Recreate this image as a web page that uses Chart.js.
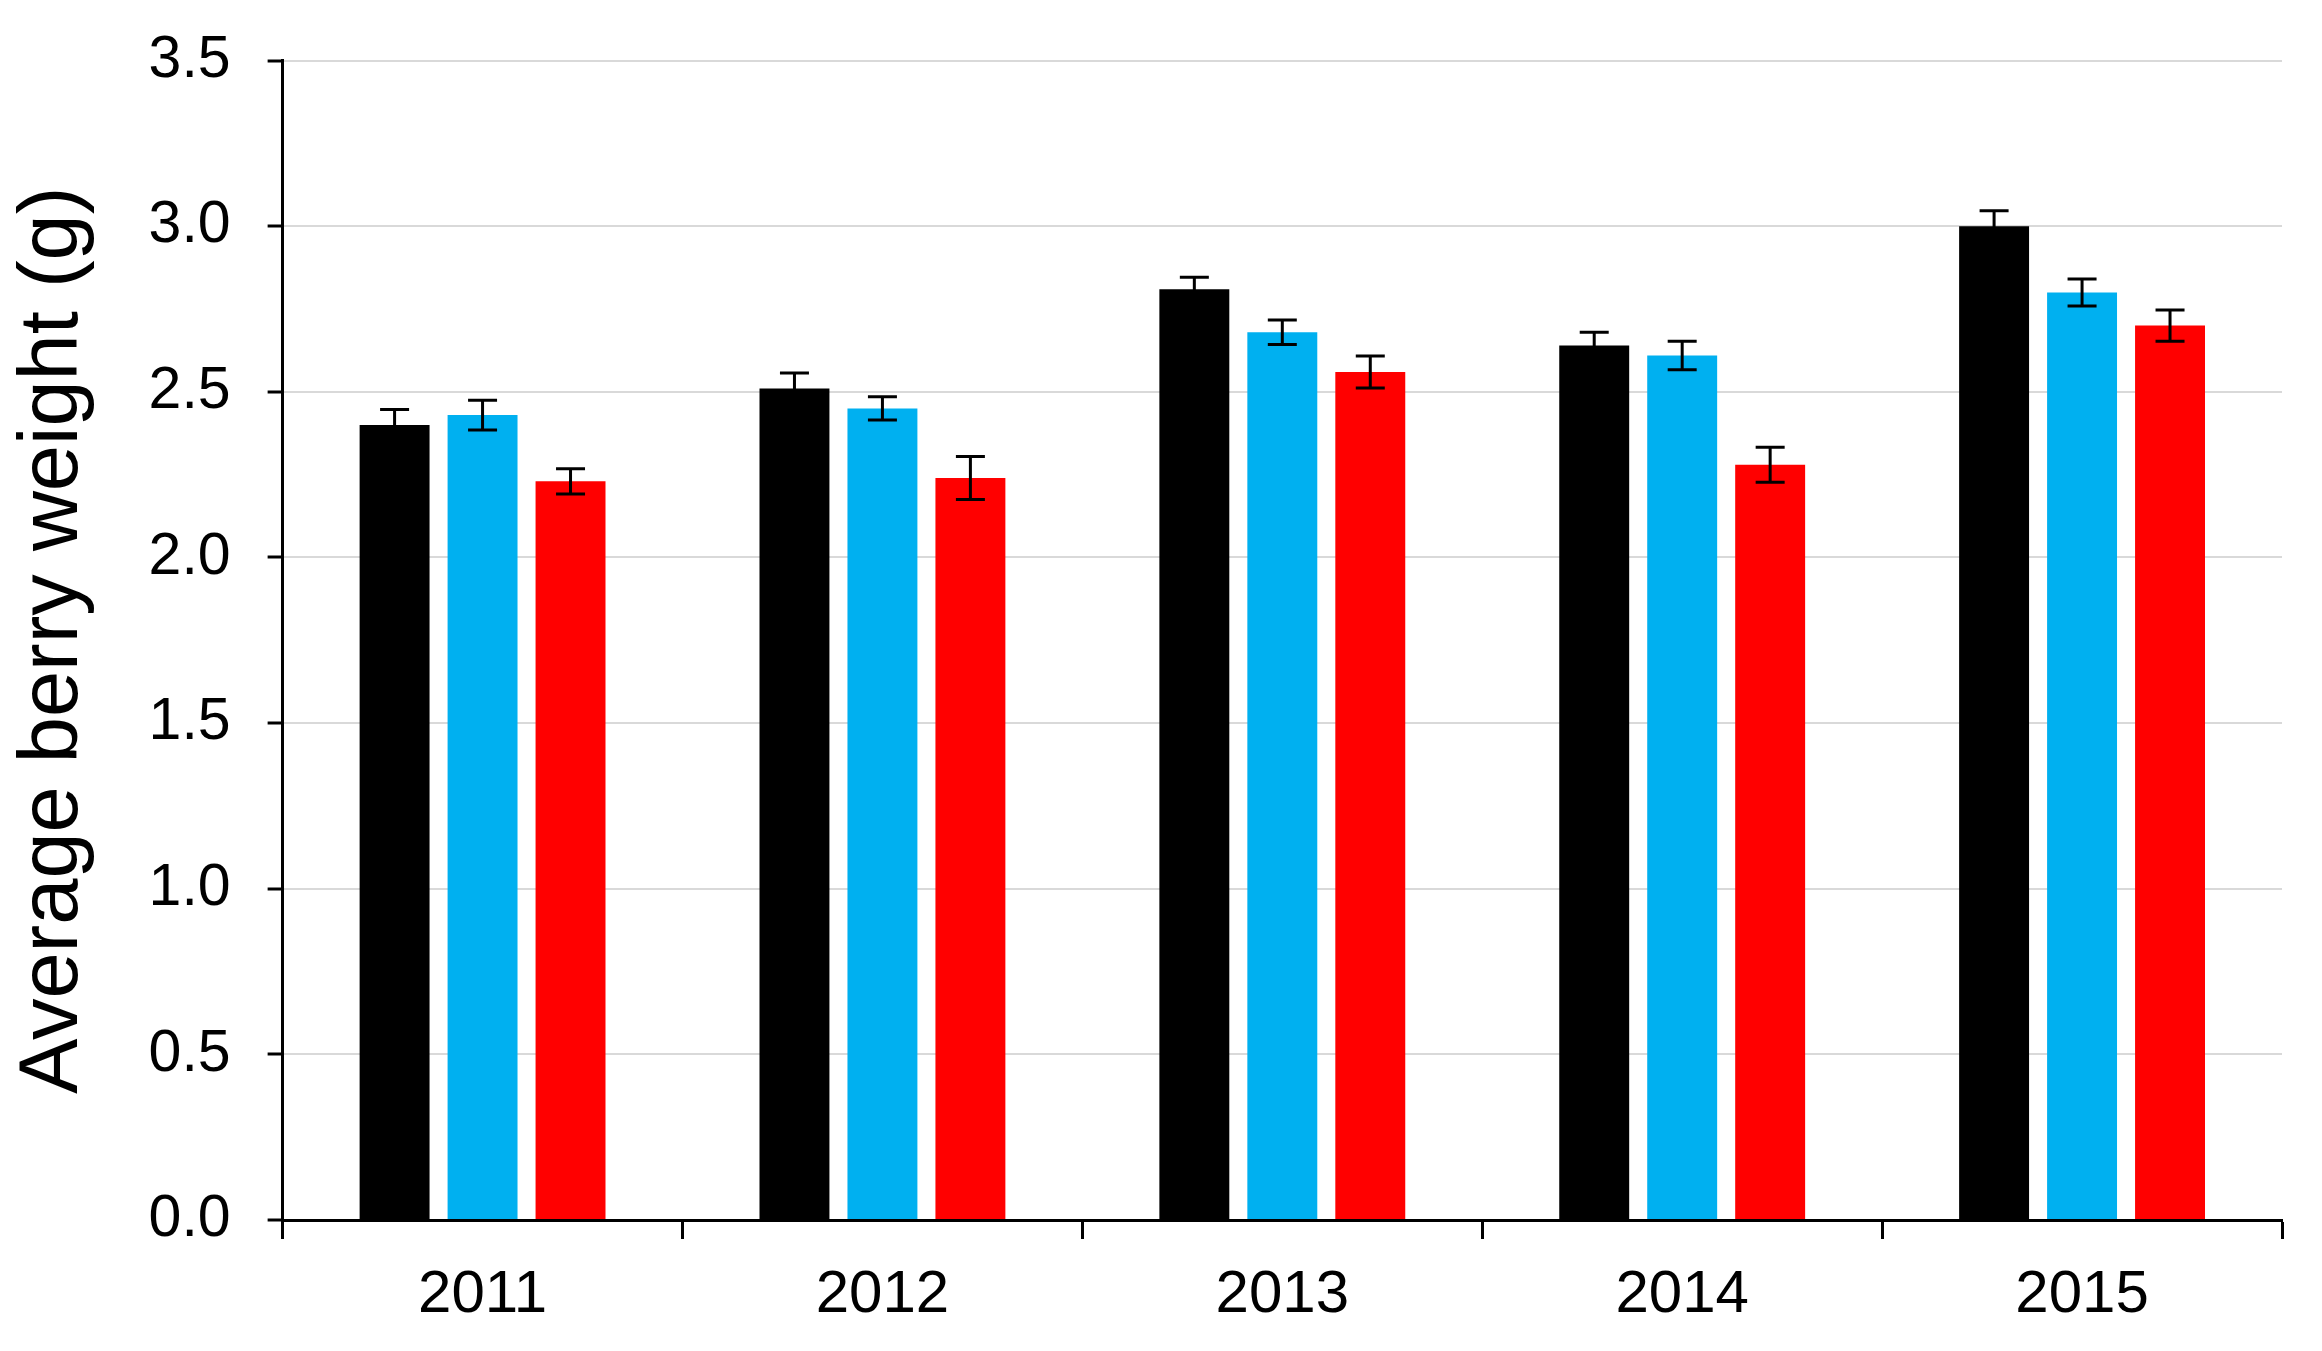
<!DOCTYPE html>
<html>
<head>
<meta charset="utf-8">
<script src="https://cdn.jsdelivr.net/npm/chart.js@4/dist/chart.umd.min.js"></script>
<style>
    body { margin: 0; background: #fff; }
    #wrap { width: 2322px; height: 1351px; position: relative; }
</style>
</head>
<body>
<div id="wrap"><canvas id="berryChart"></canvas></div>
<script>
const years = ['2011', '2012', '2013', '2014', '2015'];
const blackValues = [2.40, 2.51, 2.81, 2.64, 3.00];
const blueValues = [2.43, 2.45, 2.68, 2.61, 2.80];
const redValues = [2.23, 2.24, 2.56, 2.28, 2.70];
const blackErrors = [0.047, 0.047, 0.036, 0.040, 0.047];
const blueErrors = [0.045, 0.035, 0.037, 0.043, 0.041];
const redErrors = [0.038, 0.065, 0.048, 0.053, 0.047];

const errorBars = {
    id: 'errorBars',
    afterDatasetsDraw(chart) {
        const ctx = chart.ctx;
        const y = chart.scales.y;
        ctx.save();
        ctx.strokeStyle = '#000';
        ctx.lineWidth = 3;
        chart.data.datasets.forEach((ds, i) => {
            const meta = chart.getDatasetMeta(i);
            meta.data.forEach((bar, j) => {
                const v = ds.data[j];
                const e = ds.errors[j];
                const top = y.getPixelForValue(v + e);
                const bottom = y.getPixelForValue(v - e);
                const half = 14.5;
                ctx.beginPath();
                ctx.moveTo(bar.x, top);
                ctx.lineTo(bar.x, bottom);
                ctx.moveTo(bar.x - half, top);
                ctx.lineTo(bar.x + half, top);
                ctx.moveTo(bar.x - half, bottom);
                ctx.lineTo(bar.x + half, bottom);
                ctx.stroke();
            });
        });
        ctx.restore();
    }
};

const ctx = document.getElementById('berryChart').getContext('2d');
new Chart(ctx, {
    type: 'bar',
    data: {
        labels: years,
        datasets: [
            { data: blackValues, errors: blackErrors, backgroundColor: '#000000' },
            { data: blueValues, errors: blueErrors, backgroundColor: '#00B0F0' },
            { data: redValues, errors: redErrors, backgroundColor: '#FF0000' }
        ]
    },
    options: {
        responsive: true,
        maintainAspectRatio: false,
        animation: false,
        categoryPercentage: 0.66,
        barPercentage: 0.795,
        layout: { padding: { top: 20, right: 40, bottom: 0, left: 0 } },
        plugins: {
            legend: { display: false },
            tooltip: { enabled: false }
        },
        scales: {
            x: {
                border: { color: '#000', width: 3 },
                grid: {
                    offset: true,
                    color: 'rgba(0,0,0,0)',
                    tickColor: '#000',
                    tickLength: 19,
                    tickWidth: 3
                },
                ticks: {
                    color: '#000',
                    padding: 20,
                    font: { family: "Arial, 'Liberation Sans', sans-serif", size: 60 }
                }
            },
            y: {
                min: 0,
                max: 3.5,
                border: { color: '#000', width: 3 },
                grid: {
                    color: '#d9d9d9',
                    lineWidth: 2,
                    tickColor: '#000',
                    tickLength: 15,
                    tickWidth: 3
                },
                ticks: {
                    stepSize: 0.5,
                    color: '#000',
                    padding: 37,
                    font: { family: "Arial, 'Liberation Sans', sans-serif", size: 59, lineHeight: 0.8 },
                    callback: v => Number(v).toFixed(1)
                },
                title: {
                    display: true,
                    text: 'Average berry weight (g)',
                    color: '#000',
                    padding: { top: 4, bottom: 8 },
                    font: { family: "Arial, 'Liberation Sans', sans-serif", size: 83 }
                }
            }
        }
    },
    plugins: [errorBars]
});
</script>
</body>
</html>
